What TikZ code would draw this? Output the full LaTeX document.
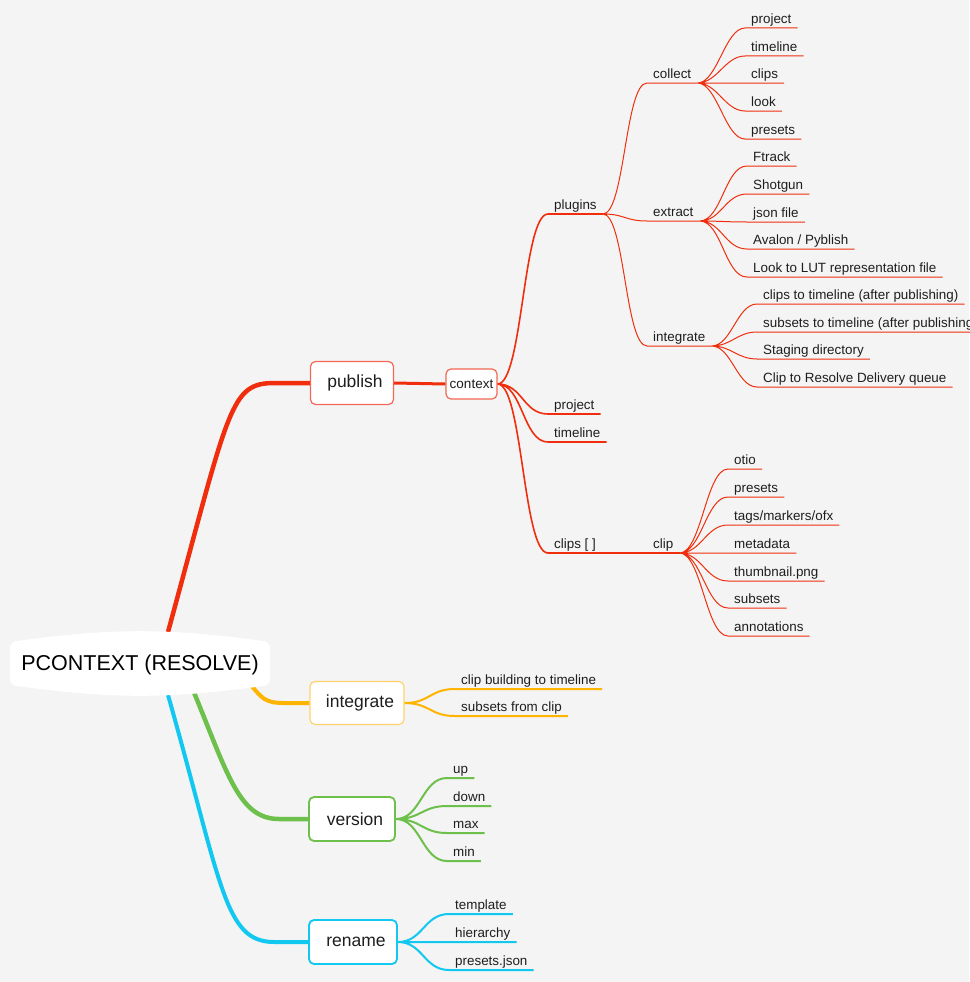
\documentclass[tikz,border=0pt]{standalone}
\usepackage{fontspec}
\setmainfont{Liberation Sans}

\definecolor{bg}{RGB}{244,244,244}
\definecolor{ink}{RGB}{30,30,30}
\definecolor{mmred}{RGB}{240,46,14}
\definecolor{mmredlt}{RGB}{242,104,84}
\definecolor{mmorange}{RGB}{255,180,0}
\definecolor{mmorangelt}{RGB}{255,210,110}
\definecolor{mmgreen}{RGB}{110,192,76}
\definecolor{mmcyan}{RGB}{18,200,240}

\tikzset{
  topic/.style={draw=#1, fill=white, rounded corners=5pt, line width=1.2pt,
    minimum height=43pt, inner sep=0pt, text=ink, font=\fontsize{17.5}{20}\selectfont},
  leaf/.style={anchor=south west, inner xsep=6pt, inner ysep=0pt, text height=10pt,
    text depth=4pt, text=ink, font=\fontsize{13.4}{15}\selectfont},
  fan/.style={out=0, in=180, distance=#1},
}

\begin{document}
\begin{tikzpicture}[x=1pt,y=-1pt]

	\fill[bg] (0,0) rectangle (969,982);
	\useasboundingbox (0,0) rectangle (969,982);

	\coordinate (hub) at (140,663);

	% main topics
	\node[topic=mmredlt, minimum width=83pt] (publish) at (352,383) {\hspace{6pt}publish};
	\node[topic=mmredlt, minimum width=51pt, minimum height=30pt,
	  font=\fontsize{13.5}{15}\selectfont] (context) at (471.5,384) {context};
	\node[topic=mmorangelt, minimum width=94pt] (integ) at (357,703) {\hspace{6pt}integrate};
	\node[topic=mmgreen, line width=1.8pt, minimum width=86pt, minimum height=44pt]
	  (version) at (352,819) {\hspace{6pt}version};
	\node[topic=mmcyan, line width=1.8pt, minimum width=88pt, minimum height=44pt]
	  (rename) at (353,942) {\hspace{6pt}rename};

	% branches from the root
	\draw[mmred, line width=4.5pt]
	  ([shift={(28,-31)}]hub) .. controls +(62,-227) and +(-45,0) ..
	  ([xshift=-35pt]publish.west) -- (publish.west);
	\draw[mmorange, line width=4pt]
	  ([shift={(110,21)}]hub) .. controls +(12,14) and +(-20,0) ..
	  ([xshift=-25pt]integ.west) -- (integ.west);
	\draw[mmgreen, line width=4.5pt]
	  ([shift={(53,27)}]hub) .. controls +(35,85) and +(-40,0) ..
	  ([xshift=-29pt]version.west) -- (version.west);
	\draw[mmcyan, line width=4pt]
	  ([shift={(28,32)}]hub) .. controls +(54,190) and +(-50,0) ..
	  ([xshift=-34pt]rename.west) -- (rename.west);

	\draw[mmred, line width=3pt] (publish.east) -- (context.west);

	% context
	\node[leaf] (plugins) at (548,214) {plugins};
	\node[leaf] (proj) at (548,414) {project};
	\node[leaf] (tline) at (548,442) {timeline};
	\node[leaf] (clips) at (548,553) {clips [ ]};
	\node[leaf] (clip) at (647,553) {clip};
	\draw[mmred, line width=1.6pt]
	  (context.east) to[fan=25] (plugins.south west) -- (plugins.south east)
	  (context.east) to[fan=25] (proj.south west) -- (proj.south east)
	  (context.east) to[fan=25] (tline.south west) -- (tline.south east)
	  (context.east) to[fan=25] (clips.south west) -- (clips.south east);
	\draw[mmred, line width=1.2pt]
	  (clips.south east) -- (clip.south west) -- (clip.south east);

	% plugins
	\node[leaf] (collect) at (647,83) {collect};
	\node[leaf] (extract) at (647,221) {extract};
	\node[leaf] (pinteg) at (647,346) {integrate};
	\draw[mmred, line width=1pt]
	  (plugins.south east) to[fan=22] (collect.south west) -- (collect.south east)
	  (plugins.south east) to[fan=22] (extract.south west) -- (extract.south east)
	  (plugins.south east) to[fan=22] (pinteg.south west) -- (pinteg.south east);

	\node[leaf] (cproj) at (745,28) {project};
	\node[leaf] (ctime) at (745,56) {timeline};
	\node[leaf] (cclips) at (745,83) {clips};
	\node[leaf] (clook) at (745,111) {look};
	\node[leaf] (cpres) at (745,139) {presets};
	\draw[mmred, line width=1pt]
	  (collect.south east) to[fan=20] (cproj.south west) -- (cproj.south east)
	  (collect.south east) to[fan=20] (ctime.south west) -- (ctime.south east)
	  (collect.south east) to[fan=20] (cclips.south west) -- (cclips.south east)
	  (collect.south east) to[fan=20] (clook.south west) -- (clook.south east)
	  (collect.south east) to[fan=20] (cpres.south west) -- (cpres.south east);

	\node[leaf] (ftrack) at (747,166) {Ftrack};
	\node[leaf] (shotgun) at (747,194) {Shotgun};
	\node[leaf] (json) at (747,222) {json file};
	\node[leaf] (avalon) at (747,249) {Avalon / Pyblish};
	\node[leaf] (lut) at (747,277) {Look to LUT representation file};
	\draw[mmred, line width=1pt]
	  (extract.south east) to[fan=22] (ftrack.south west) -- (ftrack.south east)
	  (extract.south east) to[fan=22] (shotgun.south west) -- (shotgun.south east)
	  (extract.south east) to[fan=22] (json.south west) -- (json.south east)
	  (extract.south east) to[fan=22] (avalon.south west) -- (avalon.south east)
	  (extract.south east) to[fan=22] (lut.south west) -- (lut.south east);

	\node[leaf] (ptotl) at (757,304) {clips to timeline (after publishing)};
	\node[leaf] (psub) at (757,332) {subsets to timeline (after publishing)};
	\node[leaf] (pstage) at (757,359) {Staging directory};
	\node[leaf] (pqueue) at (757,387) {Clip to Resolve Delivery queue};
	\draw[mmred, line width=1pt]
	  (pinteg.south east) to[fan=20] (ptotl.south west) -- (ptotl.south east)
	  (pinteg.south east) to[fan=20] (psub.south west) -- (psub.south east)
	  (pinteg.south east) to[fan=20] (pstage.south west) -- (pstage.south east)
	  (pinteg.south east) to[fan=20] (pqueue.south west) -- (pqueue.south east);

	% clip
	\node[leaf] (otio) at (728,469) {otio};
	\node[leaf] (kpres) at (728,497) {presets};
	\node[leaf] (tags) at (728,525) {tags/markers/ofx};
	\node[leaf] (meta) at (728,553) {metadata};
	\node[leaf] (thumb) at (728,581) {thumbnail.png};
	\node[leaf] (subs) at (728,608) {subsets};
	\node[leaf] (annot) at (728,636) {annotations};
	\draw[mmred, line width=1pt]
	  (clip.south east) to[fan=22] (otio.south west) -- (otio.south east)
	  (clip.south east) to[fan=22] (kpres.south west) -- (kpres.south east)
	  (clip.south east) to[fan=22] (tags.south west) -- (tags.south east)
	  (clip.south east) to[fan=22] (meta.south west) -- (meta.south east)
	  (clip.south east) to[fan=22] (thumb.south west) -- (thumb.south east)
	  (clip.south east) to[fan=22] (subs.south west) -- (subs.south east)
	  (clip.south east) to[fan=22] (annot.south west) -- (annot.south east);

	% integrate
	\node[leaf] (ibuild) at (455,689) {clip building to timeline};
	\node[leaf] (isub) at (455,716) {subsets from clip};
	\draw[mmorange, line width=2pt]
	  (integ.east) to[fan=25] (ibuild.south west) -- (ibuild.south east)
	  (integ.east) to[fan=25] (isub.south west) -- (isub.south east);

	% version
	\node[leaf] (up) at (447,778) {up};
	\node[leaf] (down) at (447,806) {down};
	\node[leaf] (max) at (447,833) {max};
	\node[leaf] (min) at (447,861) {min};
	\draw[mmgreen, line width=2pt]
	  (version.east) to[fan=25] (up.south west) -- (up.south east)
	  (version.east) to[fan=25] (down.south west) -- (down.south east)
	  (version.east) to[fan=25] (max.south west) -- (max.south east)
	  (version.east) to[fan=25] (min.south west) -- (min.south east);

	% rename
	\node[leaf] (tmpl) at (449,914) {template};
	\node[leaf] (hier) at (449,942) {hierarchy};
	\node[leaf] (pjson) at (449,970) {presets.json};
	\draw[mmcyan, line width=2pt]
	  (rename.east) to[fan=25] (tmpl.south west) -- (tmpl.south east)
	  (rename.east) to[fan=25] (hier.south west) -- (hier.south east)
	  (rename.east) to[fan=25] (pjson.south west) -- (pjson.south east);

	% root
	\fill[white, rounded corners=6pt]
	  (10,642) to[bend left=8] (270,642) -- (270,685)
	  to[bend left=8] (10,685) -- cycle;
	\node[font=\fontsize{21.5}{24}\selectfont, text=black] (root) at ([yshift=-2pt]hub) {PCONTEXT (RESOLVE)};

\end{tikzpicture}
\end{document}
